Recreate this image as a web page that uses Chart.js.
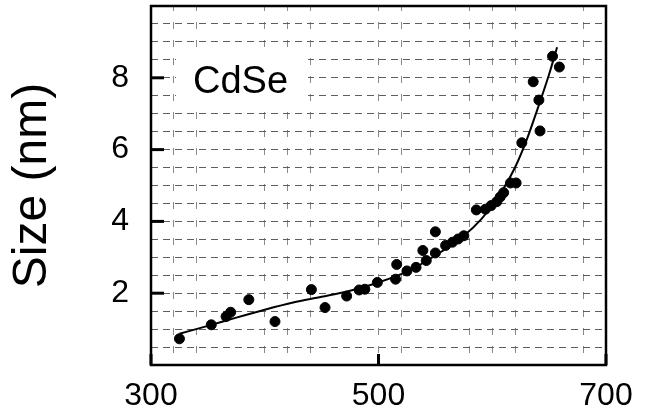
<!DOCTYPE html>
<html>
<head>
<meta charset="utf-8">
<script src="https://cdn.jsdelivr.net/npm/chart.js@4/dist/chart.umd.min.js"></script>
<style>
  html, body { margin: 0; padding: 0; background: #fff; }
  #wrap { width: 646px; height: 410px; }
</style>
</head>
<body>
<div id="wrap"><canvas id="sizeChart"></canvas></div>
<script>
// measured CdSe points: first absorption peak (nm) vs particle size (nm)
const wavelength = [325, 353, 366, 370, 386, 409, 441, 453, 472, 483, 488, 499, 515, 516, 525, 533, 539, 542, 550, 550, 559, 565, 570, 575, 586, 594, 599, 604, 607, 610, 616, 621, 626, 636, 641, 642, 653, 659];
const size = [0.73, 1.12, 1.35, 1.47, 1.82, 1.21, 2.10, 1.60, 1.92, 2.09, 2.11, 2.30, 2.39, 2.80, 2.62, 2.72, 3.19, 2.91, 3.12, 3.71, 3.33, 3.42, 3.51, 3.60, 4.32, 4.34, 4.44, 4.55, 4.68, 4.80, 5.07, 5.07, 6.19, 7.89, 7.38, 6.52, 8.60, 8.30];

// fitted curve
const fitX = [325, 350, 375, 400, 425, 450, 475, 500, 525, 550, 575, 590, 600, 610, 620, 630, 640, 650, 657];
const fitY = [0.87, 1.09, 1.32, 1.54, 1.74, 1.9, 2.07, 2.3, 2.6, 3.05, 3.6, 4.05, 4.45, 4.92, 5.5, 6.25, 7.15, 8.1, 8.85];

// axes
const xGrid = [300, 320, 340, 400, 420, 440, 500, 520, 580, 600, 620, 680, 700];
const xLabels = [300, 500, 700];
const yGrid = [0, 0.5, 1, 1.5, 2, 2.5, 3, 3.5, 4, 4.5, 5, 5.5, 6, 6.5, 7, 7.5, 8, 8.5, 9, 9.5, 10];
const yLabels = [2, 4, 6, 8];
const sampleLabel = "CdSe";

const FONT = "'Liberation Sans', Arial, Helvetica, sans-serif";

const framePlugin = {
  id: "frame",
  beforeDatasetsDraw(chart) {
    const { ctx } = chart;
    // white box behind the sample name
    ctx.save();
    ctx.fillStyle = "#fff";
    ctx.fillRect(176, 50, 132, 58);
    ctx.fillStyle = "#000";
    ctx.font = "38px " + FONT;
    ctx.textBaseline = "alphabetic";
    ctx.fillText(sampleLabel, 193, 93);
    ctx.restore();
  },
  afterDraw(chart) {
    const { ctx, chartArea: a, scales } = chart;
    ctx.save();
    ctx.strokeStyle = "#000";
    ctx.lineWidth = 2.5;
    ctx.strokeRect(a.left, a.top, a.right - a.left, a.bottom - a.top);
    // inward tick marks
    ctx.lineWidth = 3;
    yLabels.forEach((v) => {
      const y = scales.y.getPixelForValue(v);
      ctx.beginPath();
      ctx.moveTo(a.left, y);
      ctx.lineTo(a.left + 13, y);
      ctx.stroke();
    });
    xLabels.forEach((v) => {
      const x = scales.x.getPixelForValue(v);
      ctx.beginPath();
      ctx.moveTo(x, a.bottom);
      ctx.lineTo(x, a.bottom - 11);
      ctx.stroke();
    });
    ctx.restore();
  },
};

new Chart(document.getElementById("sizeChart"), {
  type: "scatter",
  data: {
    datasets: [
      {
        label: "fit",
        type: "line",
        data: fitX.map((x, i) => ({ x: x, y: fitY[i] })),
        borderColor: "#000",
        borderWidth: 2,
        pointRadius: 0,
        cubicInterpolationMode: "monotone",
        fill: false,
      },
      {
        label: "CdSe",
        data: wavelength.map((x, i) => ({ x: x, y: size[i] })),
        backgroundColor: "#000",
        borderColor: "#000",
        pointRadius: 5,
        pointHoverRadius: 5,
      },
    ],
  },
  options: {
    responsive: true,
    maintainAspectRatio: false,
    animation: false,
    layout: { padding: { top: 6, right: 40, left: 0, bottom: 0 } },
    plugins: {
      legend: { display: false },
      tooltip: { enabled: false },
    },
    scales: {
      x: {
        type: "linear",
        min: 300,
        max: 700,
        afterBuildTicks: (scale) => {
          scale.ticks = xGrid.map((v) => ({ value: v }));
        },
        afterFit: (scale) => {
          scale.height = 45;
          scale.paddingLeft = 0;
          scale.paddingRight = 0;
        },
        ticks: {
          autoSkip: false,
          maxRotation: 0,
          padding: 12,
          color: "#000",
          font: { family: FONT, size: 32 },
          callback: (v) => (xLabels.includes(v) ? String(v) : ""),
        },
        grid: {
          color: "#8a8a8a",
          lineWidth: 1,
          drawTicks: false,
        },
        border: { display: false, dash: [7, 11], dashOffset: 2 },
      },
      y: {
        type: "linear",
        min: 0,
        max: 10,
        afterBuildTicks: (scale) => {
          scale.ticks = yGrid.map((v) => ({ value: v }));
        },
        afterFit: (scale) => {
          scale.width = 151;
          scale.paddingTop = 0;
          scale.paddingBottom = 0;
        },
        title: {
          display: true,
          text: "Size (nm)",
          color: "#000",
          font: { family: FONT, size: 48 },
          padding: { top: 4, bottom: 0 },
        },
        ticks: {
          autoSkip: false,
          padding: 22,
          color: "#000",
          font: { family: FONT, size: 32 },
          callback: (v) => (yLabels.includes(v) ? String(v) : ""),
        },
        grid: {
          color: "#5e5e5e",
          lineWidth: 1,
          drawTicks: false,
        },
        border: { display: false, dash: [7, 5] },
      },
    },
  },
  plugins: [framePlugin],
});
</script>
</body>
</html>
